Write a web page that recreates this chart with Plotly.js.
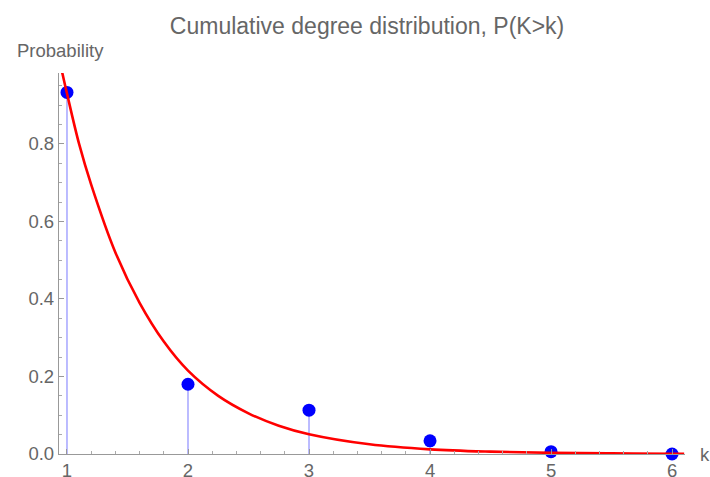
<!DOCTYPE html>
<html>
<head>
<meta charset="utf-8">
<script src="https://cdn.plot.ly/plotly-3.0.1.min.js"></script>
<style>html,body{margin:0;padding:0;background:#fff;}#chart{width:710px;height:477px;}</style>
</head>
<body>
<div id="chart"></div>
<script>
// Observed cumulative degree distribution
const degrees = [1, 2, 3, 4, 5, 6];
const probabilities = [0.933, 0.180, 0.113, 0.034, 0.006, 0.0];

// Fitted curve, values
const fitK = [0.96, 1.0, 1.1, 1.2, 1.4, 1.6, 1.8, 2.0, 2.25, 2.5, 2.75, 3.0, 3.5, 4.0, 4.5, 5.0, 5.5, 6.0, 6.1];
const fitP = [0.985, 0.93, 0.80, 0.695, 0.52, 0.39, 0.29, 0.215, 0.15, 0.105, 0.073, 0.051, 0.025, 0.012, 0.006, 0.003, 0.0015, 0.0007, 0.0006];

const yTicks = [0, 0.2, 0.4, 0.6, 0.8];
const xTicks = [1, 2, 3, 4, 5, 6];

const grey = '#666666';
const axisCol = '#999999';
const fam = 'Liberation Sans, Arial, sans-serif';

const traces = [
  {
    x: degrees, y: probabilities, type: 'scatter', mode: 'markers',
    marker: {color: '#0000ff', size: 13},
    error_y: {type: 'data', symmetric: false, array: degrees.map(() => 0), arrayminus: probabilities,
              color: 'rgba(130,130,255,0.6)', thickness: 1.8, width: 0},
    cliponaxis: false, hoverinfo: 'x+y'
  },
  {
    x: fitK, y: fitP, type: 'scatter', mode: 'lines',
    line: {color: '#ff0000', width: 2.6, shape: 'spline', smoothing: 1.0},
    cliponaxis: true
  }
];

const layout = {
  width: 710, height: 477,
  margin: {l: 59, r: 25, t: 73, b: 23},
  paper_bgcolor: '#fff', plot_bgcolor: '#fff',
  showlegend: false,
  font: {family: fam, color: grey, size: 18},
  title: {text: 'Cumulative degree distribution, P(K>k)', x: 0.517, xanchor: 'center', y: 0.945, yanchor: 'middle',
          font: {size: 23, color: grey, family: fam}},
  xaxis: {
    range: [0.934, 6.107], showgrid: false, zeroline: false,
    showline: true, linecolor: axisCol, linewidth: 1.2,
    tickvals: xTicks, ticktext: xTicks.map(String),
    ticks: 'inside', ticklen: 5, tickcolor: axisCol, tickwidth: 1,
    minor: {dtick: 0.2, tick0: 0, ticks: 'inside', ticklen: 3, tickcolor: '#aaaaaa', tickwidth: 1},
    tickfont: {size: 18.5, color: grey}, ticklabelstandoff: 0
  },
  yaxis: {
    range: [0, 0.983], showgrid: false, zeroline: false,
    showline: true, linecolor: axisCol, linewidth: 1.2,
    tickvals: yTicks, ticktext: yTicks.map(v => v.toFixed(1)),
    ticks: 'inside', ticklen: 5, tickcolor: axisCol, tickwidth: 1,
    minor: {dtick: 0.05, tick0: 0, ticks: 'inside', ticklen: 3, tickcolor: '#aaaaaa', tickwidth: 1},
    tickfont: {size: 18.5, color: grey}
  },
  annotations: [
    {text: 'Probability', xref: 'paper', yref: 'paper', x: -0.071, y: 1.0, yshift: 23,
     xanchor: 'left', yanchor: 'middle', showarrow: false, font: {size: 18.5, color: grey}},
    {text: 'k', xref: 'paper', yref: 'paper', x: 1.0, xshift: 20, y: 0,
     xanchor: 'center', yanchor: 'middle', showarrow: false, font: {size: 18.5, color: grey}}
  ]
};

Plotly.newPlot('chart', traces, layout, {displayModeBar: false, staticPlot: true});
</script>
</body>
</html>
